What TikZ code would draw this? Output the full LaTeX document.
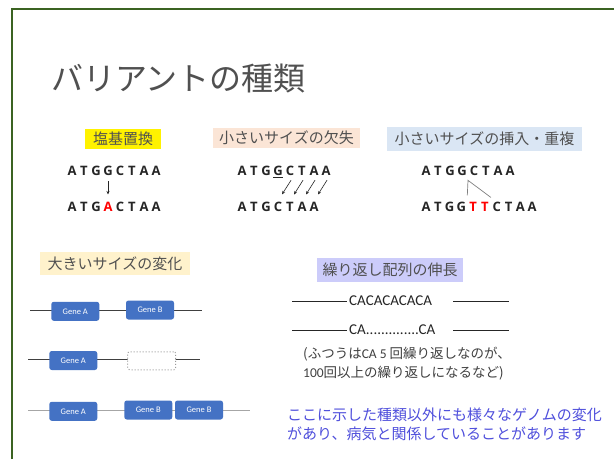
\documentclass[tikz,border=0pt]{standalone}
\usepackage{fontspec}
\setmainfont{Noto Sans CJK JP}
\newfontfamily\calfont{Carlito}
\newfontfamily\latfont{Open Sans}
\usetikzlibrary{arrows.meta,calc}
\definecolor{framegreen}{HTML}{3B6322}
\definecolor{titlegray}{HTML}{505050}
\definecolor{notegray}{HTML}{404040}
\definecolor{labtext}{HTML}{505050}
\definecolor{sqn}{HTML}{262626}
\definecolor{sqr}{HTML}{FF0000}
\definecolor{peach}{HTML}{FBE5D6}
\definecolor{lightblue}{HTML}{DAE6F4}
\definecolor{lightyel}{HTML}{FFF2CC}
\definecolor{lavender}{HTML}{CCCCFA}
\definecolor{geneblue}{HTML}{4472C4}
\definecolor{bluetext}{HTML}{4F4FDC}
\definecolor{linegray}{HTML}{404040}
\tikzset{
  lab/.style={font=\fontsize{15}{15}\selectfont, text=labtext, inner sep=0pt, minimum height=20pt},
  seq/.style={font=\latfont\bfseries\fontsize{13}{13}\selectfont, anchor=base, inner sep=0pt},
  gene/.style={fill=geneblue, rounded corners=2.5pt, minimum width=48pt, minimum height=19pt, text=white, font=\calfont\fontsize{8.5}{8.5}\selectfont, inner sep=0pt},
  arr/.style={-{Stealth[length=3.5pt,width=3pt]}, line width=0.6pt, sqn},
  chrom/.style={line width=1pt, linegray},
  rep/.style={font=\calfont\fontsize{15}{15}\selectfont, text=sqn, inner sep=0pt, anchor=west},
  note/.style={font=\fontsize{13.5}{13.5}\selectfont, text=notegray, inner sep=0pt, anchor=west},
  blue/.style={font=\fontsize{15}{15}\selectfont, text=bluetext, inner sep=0pt, anchor=west}
}
\begin{document}
\begin{tikzpicture}[x=1pt,y=-1pt]
\useasboundingbox (0,0) rectangle (614,459);
\fill[white] (0,0) rectangle (614,459);
\draw[framegreen, line width=2pt] (12,459) -- (12,9) -- (614,9);

% title
\node[anchor=west, text=titlegray, inner sep=0pt, font=\fontsize{32}{32}\selectfont] (title) at (51,79) {バリアントの種類};

% labels
\node[lab, fill=yellow, minimum width=76pt] (lsub) at (123,139) {塩基置換};
\node[lab, fill=peach, minimum width=147pt] (ldel) at (286.5,138) {小さいサイズの欠失};
\node[lab, fill=lightblue, minimum width=195pt, minimum height=24pt] (lins) at (484.5,139) {小さいサイズの挿入・重複};
\node[lab, fill=lightyel, minimum width=150pt, minimum height=23pt] (lbig) at (115,263.5) {大きいサイズの変化};
\node[lab, fill=lavender, minimum width=146pt, minimum height=24pt] (lrep) at (390,270) {繰り返し配列の伸長};

% substitution
\foreach \c [count=\i] in {A,T,G,G,C,T,A,A}
  \node[seq, text=sqn] (a\i) at ({72+(\i-1)*12},175) {\c};
\foreach \c/\k [count=\i] in {A/sqn,T/sqn,G/sqn,A/sqr,C/sqn,T/sqn,A/sqn,A/sqn}
  \node[seq, text=\k] (b\i) at ({72+(\i-1)*12},211) {\c};
\draw[arr] ([yshift=-6pt]a4.south) -- ([yshift=7pt]b4.north);

% deletion
\foreach \c [count=\i] in {A,T,G,G,C,T,A,A}
  \node[seq, text=sqn] (c\i) at ({242+(\i-1)*12},175) {\c};
\foreach \c [count=\i] in {A,T,G,C,T,A,A}
  \node[seq, text=sqn] (d\i) at ({242+(\i-1)*12},211) {\c};
\draw[sqn, line width=0.6pt] ([yshift=-1.5pt]c4.south west) -- ([yshift=-1.5pt]c4.south east);
\foreach \u/\l in {5/4,6/5,7/6,8/7}
  \draw[arr] ([xshift=1pt,yshift=-5pt]c\u.south) -- ([xshift=4pt,yshift=7pt]d\l.north);

% insertion
\foreach \c [count=\i] in {A,T,G,G,C,T,A,A}
  \node[seq, text=sqn] (e\i) at ({426+(\i-1)*12},175) {\c};
\foreach \c/\k [count=\i] in {A/sqn,T/sqn,G/sqn,G/sqn,T/sqr,T/sqr,C/sqn,T/sqn,A/sqn,A/sqn}
  \node[seq, text=\k] (f\i) at ({426+(\i-1)*11.8},211) {\c};
\coordinate (itop) at ($(e4.south)!0.5!(e5.south)+(0,5)$);
\coordinate (ibot) at ($(f4.north)!0.5!(f5.north)+(0,-6)$);
\coordinate (iend) at ($(f6.north)!0.5!(f7.north)+(0,-4)$);
\draw[gray, line width=0.7pt] (ibot) -- (itop) -- (iend);

% large changes
\coordinate (r1s) at (30,310.5); \coordinate (r1e) at (202,310.5);
\coordinate (r2s) at (28,359.5); \coordinate (r2e) at (200,359.5);
\coordinate (r3s) at (28,410.5); \coordinate (r3e) at (250,410.5);
\draw[chrom] (r1s) -- (r1e);
\draw[chrom] (r2s) -- (r2e);
\draw[chrom, line width=1.8pt, gray!70] (r3s) -- (r3e);
\node[gene] (ga1) at (75.3,311.3) {Gene A};
\node[gene] (gb1) at (150,310) {Gene B};
\node[gene] (ga2) at (73.3,360.5) {Gene A};
\node[draw=gray!80, fill=white, dotted, line width=1pt, rounded corners=2pt, minimum width=48pt, minimum height=18pt, inner sep=0pt] (gdel) at (151.7,360.8) {};
\node[gene] (ga3) at (73.3,411.3) {Gene A};
\node[gene] (gb3a) at (148.3,410) {Gene B};
\node[gene] (gb3b) at (199,410) {Gene B};

% repeat expansion
\node[rep] (rep1) at (349,301) {CACACACACA};
\node[rep] (rep2) at (349,330) {CA..............CA};
\coordinate (p1a) at (292,301); \coordinate (p1b) at (453,301); \coordinate (p1c) at (509,301);
\coordinate (p2a) at (292,330); \coordinate (p2b) at (453,330); \coordinate (p2c) at (509,330);
\draw[sqn, line width=0.6pt] (p1a) -- ([xshift=-2pt]rep1.west);
\draw[sqn, line width=0.6pt] (p1b) -- (p1c);
\draw[sqn, line width=0.6pt] (p2a) -- ([xshift=-2pt]rep2.west);
\draw[sqn, line width=0.6pt] (p2b) -- (p2c);
\node[note] (n1) at (303,354) {(ふつうは{\calfont CA 5 }回繰り返しなのが、};
\node[note] (n2) at (303,373) {{\calfont 100}回以上の繰り返しになるなど)};

% bottom note
\node[blue] (t1) at (287,415) {ここに示した種類以外にも様々なゲノムの変化};
\node[blue] (t2) at (287,433.5) {があり、病気と関係していることがあります};
\end{tikzpicture}
\end{document}
